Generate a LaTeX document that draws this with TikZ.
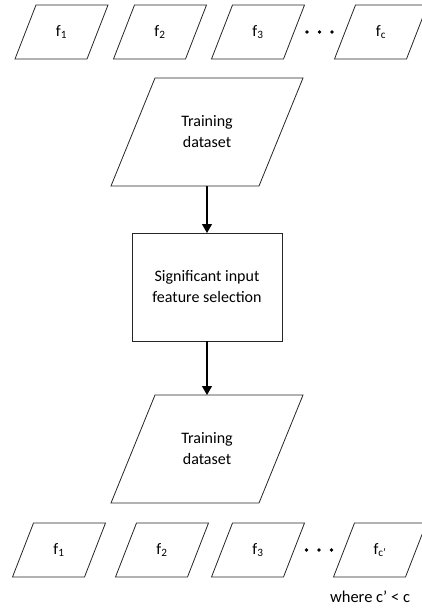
\documentclass[tikz,border=0pt]{standalone}
\usepackage{fontspec}
\setmainfont{Carlito}
\usetikzlibrary{arrows.meta,positioning,calc}

\begin{document}
\begin{tikzpicture}[x=1pt, y=-1pt,
  feat/.style={minimum width=72pt, minimum height=54pt, inner sep=0pt,
               outer sep=0pt, font=\fontsize{16}{19}\selectfont},
  datos/.style={minimum width=148pt, minimum height=108pt, align=center,
                inner sep=0pt, outer sep=0pt, font=\fontsize{16}{21}\selectfont},
  caja/.style={draw=black!85, line width=0.8pt, minimum width=150pt,
               minimum height=108pt, align=center, inner sep=0pt, outer sep=0pt,
               font=\fontsize{16}{21}\selectfont},
  borde/.style={draw=black!85, line width=0.8pt, line join=miter},
  flecha/.style={-{Triangle[length=9pt,width=10pt]}, line width=1.1pt},
  nota/.style={font=\fontsize{16.5}{19}\selectfont},
]
  \useasboundingbox (0,0) rectangle (421,608);

  % fila de arriba
  \node[feat] (f1) at (61.5,32) {f\textsubscript{1}};
  \node[feat] (f2) at (160,32)  {f\textsubscript{2}};
  \node[feat] (f3) at (258,32)  {f\textsubscript{3}};
  \node[feat] (fc) at (381,32)  {f\textsubscript{c}};
  \foreach \d in {-12.5,0,12.5}
    \fill ($(f3.east)!0.5!(fc.west)+(\d,0)$) circle[radius=1.8pt];

  % cadena central
  \node[datos] (train) at (207,132) {Training\\dataset};
  \node[caja, below=47pt of train] (sel) {Significant input\\feature selection};
  \node[datos, below=54pt of sel] (trainsel) {Training\\dataset};

  \draw[flecha] (train) -- (sel);
  \draw[flecha] (sel)   -- (trainsel);

  % fila de abajo
  \node[feat] (g1) at (59,550)  {f\textsubscript{1}};
  \node[feat] (g2) at (162,550) {f\textsubscript{2}};
  \node[feat] (g3) at (258,550) {f\textsubscript{3}};
  \node[feat] (gc) at (380,550) {f\textsubscript{c’}};
  \foreach \d in {-12.5,0,12.5}
    \fill ($(g3.east)!0.5!(gc.west)+(\d,0)$) circle[radius=1.8pt];

  \node[nota] (donde) at (370,597) {where c’ < c};

  % paralelogramos
  \foreach \n/\s in {f1/10.5,f2/10.5,f3/10.5,fc/10.5,g1/10.5,g2/10.5,g3/10.5,gc/10.5,
                     train/22,trainsel/22}
    \draw[borde] ($(\n.south west)+(-\s,0)$) -- ($(\n.north west)+(\s,0)$)
      -- ($(\n.north east)+(\s,0)$) -- ($(\n.south east)+(-\s,0)$) -- cycle;
\end{tikzpicture}
\end{document}
